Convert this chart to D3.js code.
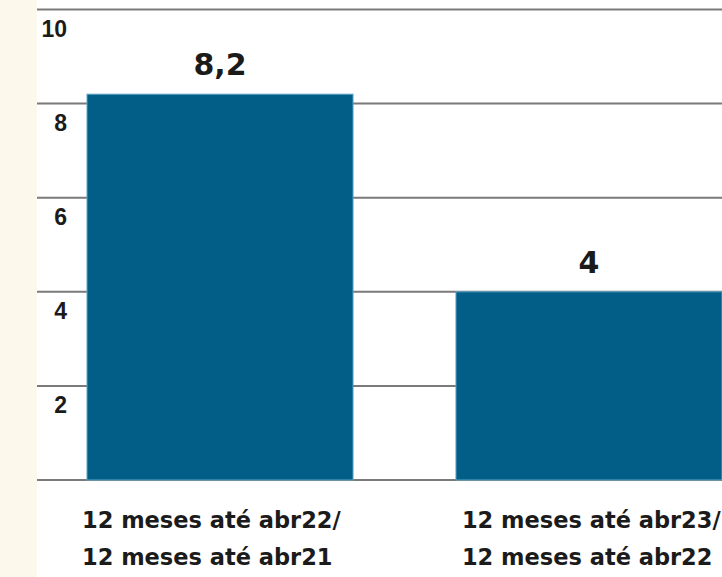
<!DOCTYPE html>
<html><head><meta charset="utf-8">
<script src="https://cdn.jsdelivr.net/npm/d3@7"></script>
<style>
html,body{margin:0;padding:0;background:#fdf8ec;}
svg{display:block;}
text{font-family:"Liberation Sans",Arial,sans-serif;font-weight:bold;fill:#1b1b1b;}
text.big{font-family:"DejaVu Sans",sans-serif;}
</style></head>
<body>
<svg id="chart" width="722" height="577"></svg>
<script>
const categories = [["12 meses até abr22/","12 meses até abr21"],["12 meses até abr23/","12 meses até abr22"]];
const values = [8.2, 4];
const valueLabels = ["8,2", "4"];
const yTicks = [0, 2, 4, 6, 8, 10];

const svg = d3.select("#chart");
svg.append("rect").attr("x",37).attr("y",0).attr("width",685).attr("height",577).attr("fill","#ffffff");

const y = d3.scaleLinear().domain([0,10]).range([480, 9.5]);
const x = d3.scaleBand().domain(d3.range(values.length)).range([87, 722]).paddingInner(0.279).paddingOuter(0);

// gridlines
svg.append("g").selectAll("line").data(yTicks).join("line")
  .attr("x1",37).attr("x2",722)
  .attr("y1",d=>y(d)).attr("y2",d=>y(d))
  .attr("stroke","#7a7a7a").attr("stroke-width",2);

// tick labels
svg.append("g").selectAll("text").data(yTicks.filter(d=>d>0)).join("text")
  .attr("x",67).attr("y",d=>y(d)+27)
  .attr("text-anchor","end").attr("font-size",23)
  .text(d=>d);

// bars
svg.append("g").selectAll("rect").data(values).join("rect")
  .attr("x",(d,i)=>x(i)).attr("width",x.bandwidth())
  .attr("y",d=>y(d)).attr("height",d=>y(0)-y(d))
  .attr("fill","#035e87").attr("stroke","#5aa6c8").attr("stroke-width",1);

// value labels
svg.append("g").selectAll("text").data(values).join("text")
  .attr("class","big")
  .attr("x",(d,i)=>x(i)+x.bandwidth()/2)
  .attr("y",d=>y(d)-19)
  .attr("text-anchor","middle").attr("font-size",30)
  .text((d,i)=>valueLabels[i]);

// category labels
const cat = svg.append("g").selectAll("text").data(categories).join("text")
  .attr("class","big")
  .attr("x",(d,i)=>x(i)+(i===0?-5:6))
  .attr("y",528).attr("font-size",22.5)
  .attr("text-anchor","start");
cat.each(function(d,i){
  const t = d3.select(this);
  d.forEach((line,j)=>{
    t.append("tspan").attr("x",x(i)+(i===0?-5:6)).attr("dy", j===0?0:37).text(line);
  });
});
</script>
</body></html>
